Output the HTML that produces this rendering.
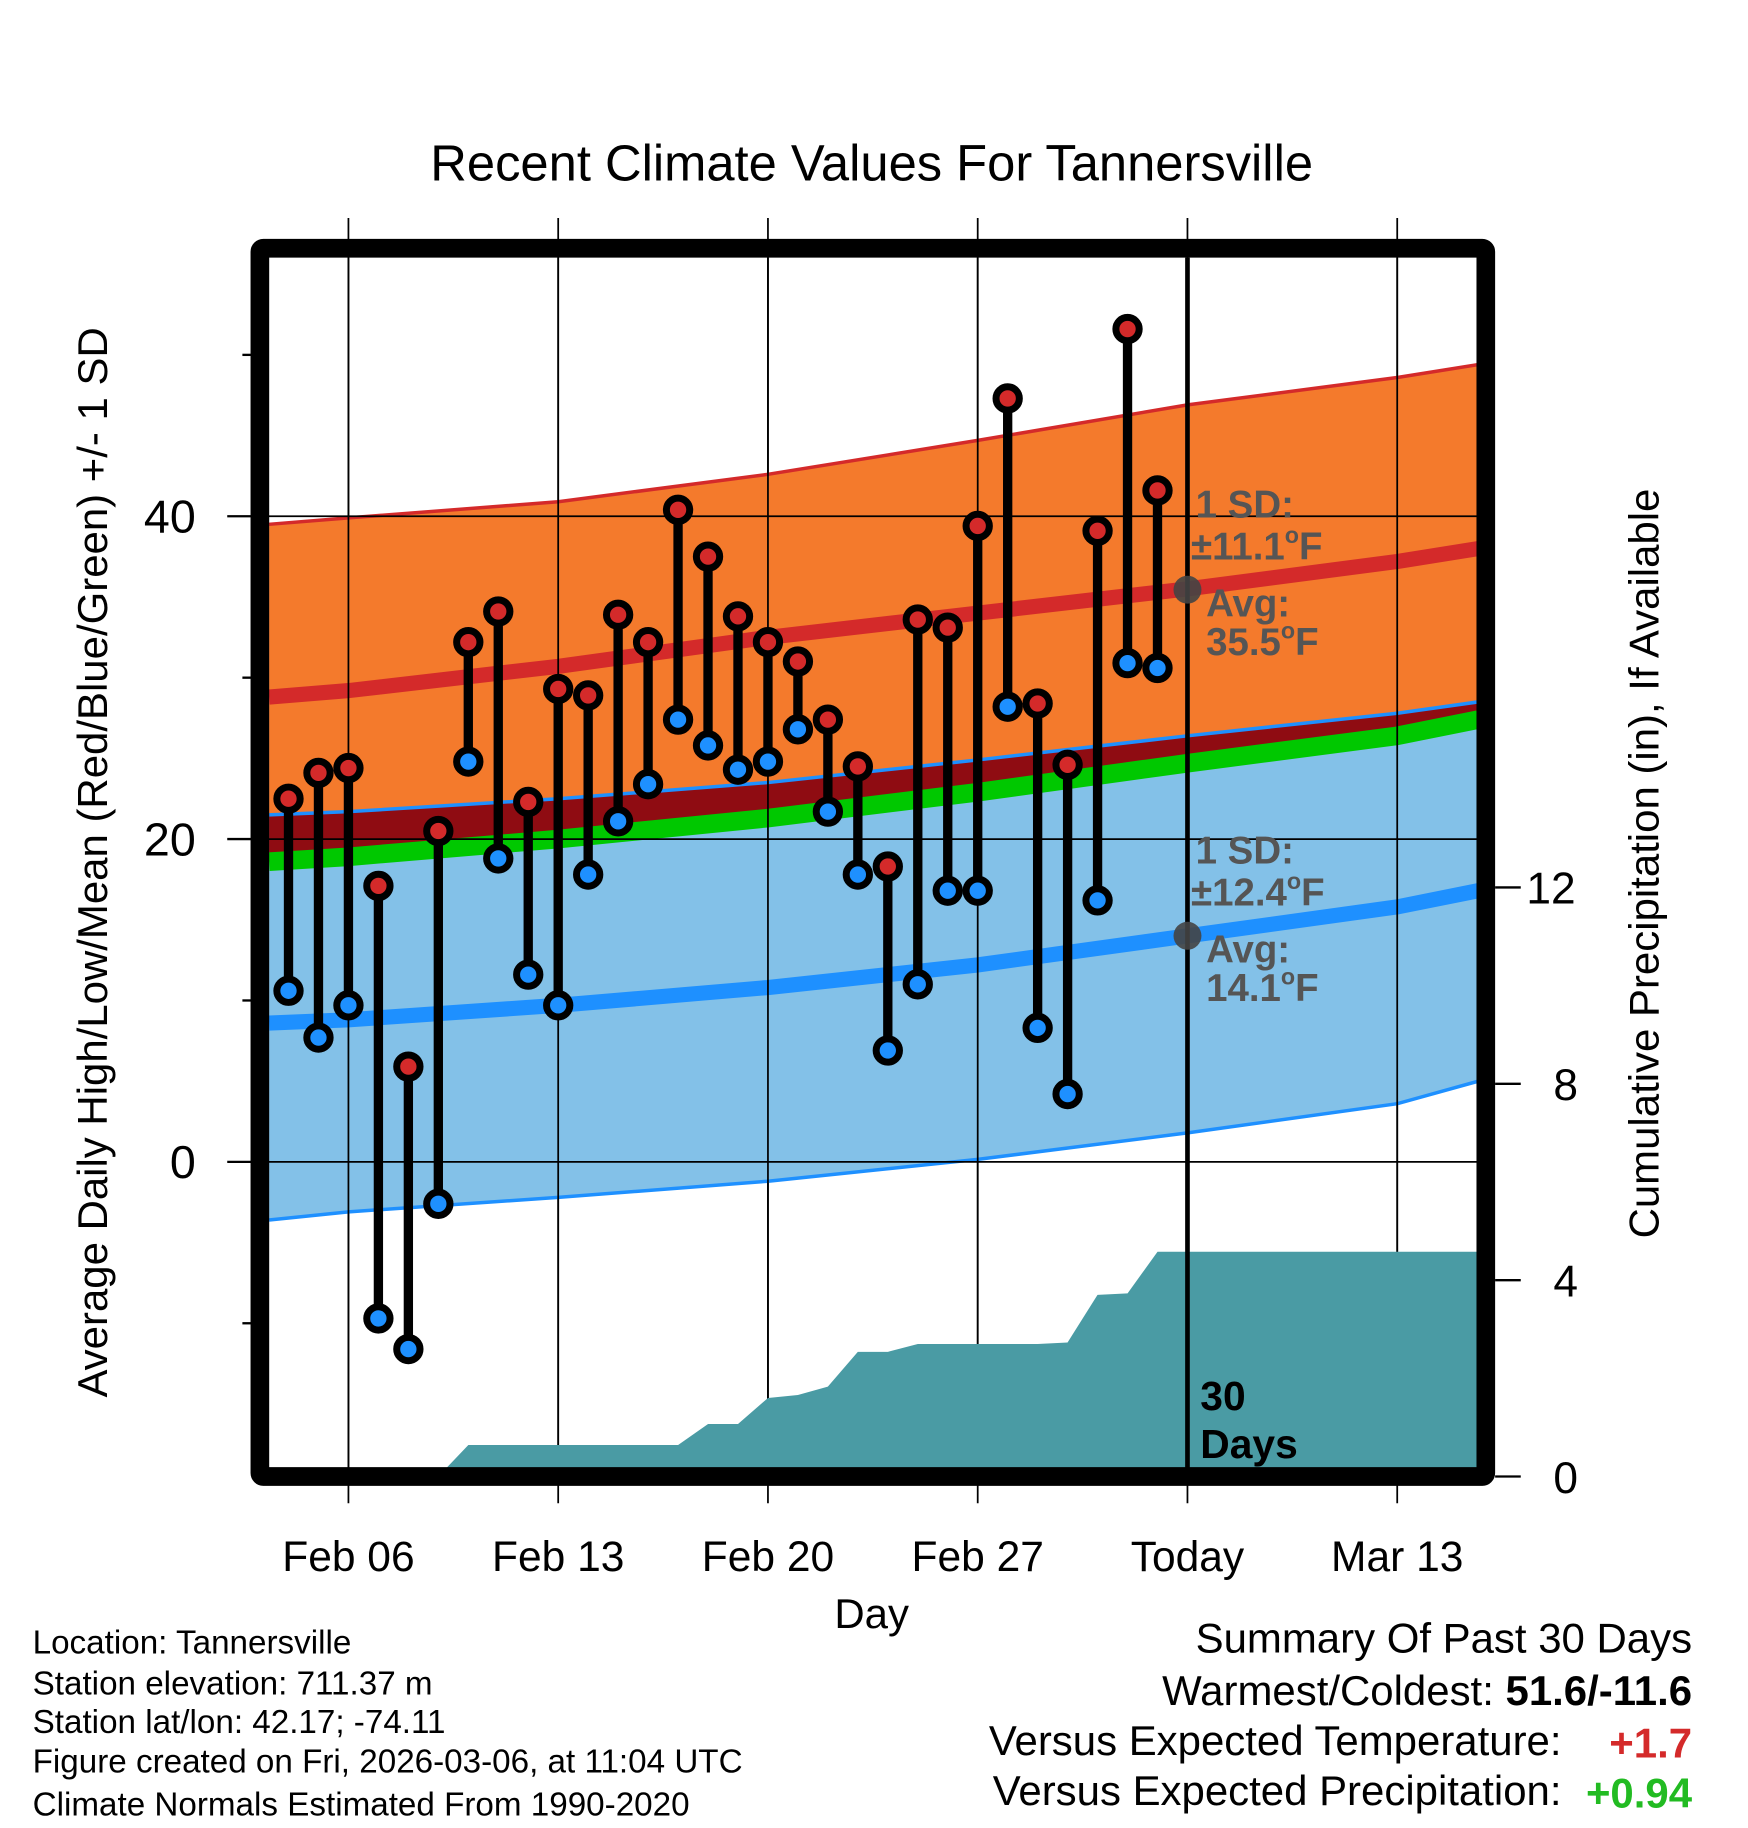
<!DOCTYPE html>
<html><head><meta charset="utf-8"><style>
html,body{margin:0;padding:0;background:#fff}
svg{display:block}
text{font-family:"Liberation Sans",Arial,sans-serif}
</style></head><body>
<svg id="chart" width="1748" height="1828" viewBox="0 0 1500 1568.6" xmlns="http://www.w3.org/2000/svg">
<defs><clipPath id="plotclip"><rect x="224" y="221" width="1044" height="1039"/></clipPath></defs>
<text x="748" y="155" font-size="43.5" text-anchor="middle">Recent Climate Values For Tannersville</text>
<g id="grid"></g>
<g id="bands" clip-path="url(#plotclip)"></g>
<g id="precip" clip-path="url(#plotclip)"></g>
<g id="points"></g>
<g id="annot">
<line x1="1019" y1="221" x2="1019" y2="1262" stroke="#000" stroke-width="4"/>
<g font-weight="bold" font-size="33" fill="#555">
<text x="1026" y="444">1 SD:</text>
<text x="1022" y="480">±11.1<tspan font-size="20" dy="-14">o</tspan><tspan dy="14">F</tspan></text>
<text x="1035" y="529">Avg:</text>
<text x="1035" y="562">35.5<tspan font-size="20" dy="-14">o</tspan><tspan dy="14">F</tspan></text>
<text x="1026" y="741">1 SD:</text>
<text x="1022" y="777">±12.4<tspan font-size="20" dy="-14">o</tspan><tspan dy="14">F</tspan></text>
<text x="1035" y="826">Avg:</text>
<text x="1035" y="859">14.1<tspan font-size="20" dy="-14">o</tspan><tspan dy="14">F</tspan></text>
</g>
<circle cx="1019" cy="506" r="12" fill="#444" opacity="0.9"/>
<circle cx="1019" cy="803" r="12" fill="#444" opacity="0.9"/>
<text x="1030" y="1210" font-size="35" font-weight="bold">30</text>
<text x="1030" y="1251" font-size="35" font-weight="bold">Days</text>
</g>
<rect x="223" y="213" width="1052" height="1054" fill="none" stroke="#000" stroke-width="16" rx="3"/>
<g id="axes"></g>
<text x="748" y="1397" font-size="36" text-anchor="middle">Day</text>
<text transform="translate(92,740) rotate(-90)" font-size="36" text-anchor="middle">Average Daily High/Low/Mean (Red/Blue/Green) +/- 1 SD</text>
<text transform="translate(1423,741) rotate(-90)" font-size="36" text-anchor="middle">Cumulative Precipitation (in), If Available</text>
<g font-size="28.5">
<text x="28" y="1419">Location: Tannersville</text>
<text x="28" y="1454">Station elevation: 711.37 m</text>
<text x="28" y="1487">Station lat/lon: 42.17; -74.11</text>
<text x="28" y="1521">Figure created on Fri, 2026-03-06, at 11:04 UTC</text>
<text x="28" y="1558">Climate Normals Estimated From 1990-2020</text>
</g>
<g font-size="36">
<text x="1452" y="1418" text-anchor="end">Summary Of Past 30 Days</text>
<text x="1452" y="1463" text-anchor="end">Warmest/Coldest: <tspan font-weight="bold">51.6/-11.6</tspan></text>
<text x="1340" y="1506" text-anchor="end">Versus Expected Temperature:</text>
<text x="1452" y="1508" text-anchor="end" font-weight="bold" fill="#d42a2a">+1.7</text>
<text x="1340" y="1549" text-anchor="end">Versus Expected Precipitation:</text>
<text x="1452" y="1551" text-anchor="end" font-weight="bold" fill="#22bb22">+0.94</text>
</g>
</svg>
<script>
// Day index: 0 = Feb 06
const obsDays = [-2,-1,0,1,2,3,4,5,6,7,8,9,10,11,12,13,14,15,16,17,18,19,20,21,22,23,24,25,26,27];
const highs = [22.5,24.1,24.4,17.1,5.9,20.5,32.2,34.1,22.3,29.3,28.9,33.9,32.2,40.4,37.5,33.8,32.2,31.0,27.4,24.5,18.3,33.6,33.1,39.4,47.3,28.4,24.6,39.1,51.6,41.6];
const lows = [10.6,7.7,9.7,-9.7,-11.6,-2.6,24.8,18.8,11.6,9.7,17.8,21.1,23.4,27.4,25.8,24.3,24.8,26.8,21.7,17.8,6.9,11.0,16.8,16.8,28.2,8.3,4.2,16.2,30.9,30.6];
const precipCum = [0,0,0,0,0,0,0.64,0.64,0.64,0.64,0.64,0.64,0.64,0.64,1.07,1.07,1.6,1.66,1.83,2.54,2.54,2.7,2.7,2.7,2.7,2.7,2.73,3.7,3.73,4.58];
const normDays = [-2.65,0,7,14,21,28,35,37.7];
const hiUpper = [39.5,39.9,40.9,42.6,44.7,46.9,48.6,49.4];
const hiMean = [28.8,29.2,30.7,32.5,34.0,35.5,37.2,38.0];
const loUpper = [21.5,21.7,22.5,23.5,24.9,26.4,27.8,28.5];
const avgMean = [18.6,18.9,20.0,21.3,22.9,24.7,26.4,27.4];
const loMean = [8.6,8.8,9.7,10.8,12.2,14.0,15.8,16.8];
const loLower = [-3.6,-3.1,-2.2,-1.2,0.15,1.8,3.6,5.0];
const xTickDays = [0,7,14,21,28,35];
const xTickLabels = ["Feb 06","Feb 13","Feb 20","Feb 27","Today","Mar 13"];
const yTicks = [40,20,0];
const yMinorTicks = [50,30,10,-10];
const y2Ticks = [0,4,8,12];

const NS="http://www.w3.org/2000/svg";
const X0=224, X1=1268, Y0=221, Y1=1260;
function xs(d){return 299+25.714*d;}
function ys(t){return 997-13.85*t;}
function yp(p){return 1267-42.125*p;}
function mk(tag,attrs,parent){const e=document.createElementNS(NS,tag);for(const k in attrs)e.setAttribute(k,attrs[k]);parent.appendChild(e);return e;}
function pts(days,vals){return days.map((d,i)=>xs(d).toFixed(1)+","+ys(vals[i]).toFixed(1));}

const grid=document.getElementById('grid');
xTickDays.forEach((d,i)=>{
  const l=mk('line',{x1:xs(d),x2:xs(d),y1:187,y2:1290,stroke:'#000','stroke-width':1.5},grid);
  
  
});
const bands=document.getElementById('bands');
function band(top,bot,fill,name){
  const p=pts(normDays,top).concat(pts(normDays,bot).reverse());
  const e=mk('polygon',{points:p.join(' '),fill:fill},bands);
  
  
}
function curve(vals,stroke,w,name){
  const e=mk('polyline',{points:pts(normDays,vals).join(' '),fill:'none',stroke:stroke,'stroke-width':w},bands);
  
  
}
band(hiUpper,loUpper,'#f47a2c','high-sd-band');
band(loUpper,avgMean,'#8f0c12','overlap-band');
band(avgMean,loLower,'#83c1e8','low-sd-band');
curve(avgMean,'#00c800',16,'mean-line');
curve(hiUpper,'#d42a2a',3,'high-upper-line');
curve(loUpper,'#1e90ff',3,'low-upper-line');
curve(loLower,'#1e90ff',3,'low-lower-line');
curve(hiMean,'#d42a2a',13,'high-mean-line');
curve(loMean,'#1e90ff',13,'low-mean-line');
yTicks.forEach(t=>{
  const l=mk('line',{x1:X0,x2:X1,y1:ys(t),y2:ys(t),stroke:'#000','stroke-width':1.5},bands);
  
  
});
xTickDays.forEach(d=>{
  const l=mk('line',{x1:xs(d),x2:xs(d),y1:Y0,y2:Y1,stroke:'#000','stroke-width':1.5},bands);
  
  
});

const precip=document.getElementById('precip');
let pp=[];
obsDays.forEach((d,i)=>pp.push(xs(d).toFixed(1)+","+yp(precipCum[i]).toFixed(1)));
const lastP=precipCum[precipCum.length-1];
pp.push(X1+","+yp(lastP).toFixed(1));
pp.push(X1+","+Y1);
pp.push(xs(obsDays[0]).toFixed(1)+","+Y1);
const pa=mk('polygon',{points:pp.join(' '),fill:'#4a9ba4'},precip);



const pg=document.getElementById('points');
obsDays.forEach((d,i)=>{
  const x=xs(d);
  const s=mk('line',{x1:x,x2:x,y1:ys(highs[i]),y2:ys(lows[i]),stroke:'#000','stroke-width':8},pg);
  
  
});
obsDays.forEach((d,i)=>{
  const x=xs(d);
  const lo=mk('circle',{cx:x,cy:ys(lows[i]),r:10,fill:'#1e90ff',stroke:'#000','stroke-width':6},pg);
  
  
  const hi=mk('circle',{cx:x,cy:ys(highs[i]),r:10,fill:'#d42a2a',stroke:'#000','stroke-width':6},pg);
  
  
});

const ax=document.getElementById('axes');
yTicks.forEach(t=>{
  const l=mk('line',{x1:195,x2:216,y1:ys(t),y2:ys(t),stroke:'#000','stroke-width':2},ax);
  
  
  const tx=mk('text',{x:168,y:ys(t)+14,'font-size':40,'text-anchor':'end'},ax);
  tx.textContent=t;
  
  
});
yMinorTicks.forEach(t=>{
  const l=mk('line',{x1:208,x2:216,y1:ys(t),y2:ys(t),stroke:'#000','stroke-width':2},ax);
  
  
});
y2Ticks.forEach(p=>{
  const l=mk('line',{x1:1283,x2:1305,y1:yp(p),y2:yp(p),stroke:'#000','stroke-width':2},ax);
  
  
  const tx=mk('text',{x:1333,y:yp(p)+14,'font-size':38,'text-anchor':p>=10?'middle':'start'},ax);
  if(p>=10) tx.setAttribute('x',1331);
  tx.textContent=p;
  
  
});
xTickDays.forEach((d,i)=>{
  const tx=mk('text',{x:xs(d),y:1348,'font-size':36.5,'text-anchor':'middle'},ax);
  tx.textContent=xTickLabels[i];
  
  
});
</script>
</body></html>
